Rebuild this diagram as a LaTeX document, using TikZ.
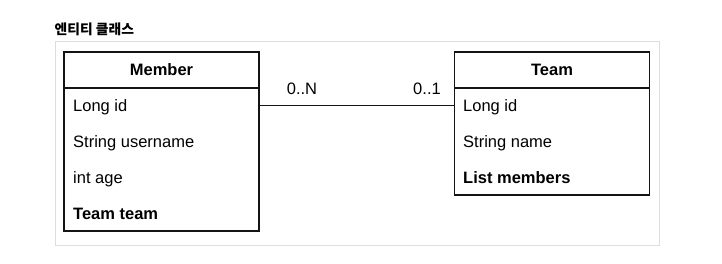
\documentclass[tikz,border=0pt]{standalone}
\usepackage{fontspec}
\setmainfont{Liberation Sans}
\newfontfamily\cjk{Noto Sans CJK KR}
\usetikzlibrary{positioning}
\definecolor{framegray}{RGB}{221,221,221}
\definecolor{inkdark}{RGB}{20,20,20}

\tikzset{
  classhead/.style={draw=inkdark, line width=1.1pt, minimum width=195pt, minimum height=36pt,
    inner sep=0pt, outer sep=0pt, font=\fontsize{16.5}{18}\selectfont\bfseries},
  classbody/.style={draw=inkdark, line width=1.1pt, minimum width=195pt, inner sep=0pt, outer sep=0pt},
  field/.style={anchor=base west, inner sep=0pt, font=\fontsize{16.5}{18}\selectfont},
  mult/.style={anchor=base, inner sep=0pt, font=\fontsize{16.5}{18}\selectfont},
}

\begin{document}
\begin{tikzpicture}[x=1pt, y=-1pt]
  \useasboundingbox (0,0) rectangle (722,264);
  % title and frame
  \node[anchor=west, inner sep=0pt, font=\cjk\bfseries\fontsize{13.8}{15}\selectfont] (title) at (54.5,29.5) {엔티티 클래스};
  \draw[framegray, line width=1pt] (55,42) rectangle (659,245);
  % Member
  \node[classhead] (memberhead) at (161.5,70) {Member};
  \node[classbody, minimum height=143pt, below=0pt of memberhead] (memberbody) {};
  \node[field] (mid) at (73,112) {Long id};
  \node[field] (mname) at (73,148) {String username};
  \node[field] (mage) at (73,184) {int age};
  \node[field, font=\fontsize{16.5}{18}\selectfont\bfseries] (mteam) at (73,220) {Team team};
  % Team
  \node[classhead] (teamhead) at (552,70) {Team};
  \node[classbody, minimum height=107pt, below=0pt of teamhead] (teambody) {};
  \node[field] (tid) at (463,112) {Long id};
  \node[field] (tname) at (463,148) {String name};
  \node[field, font=\fontsize{16.5}{18}\selectfont\bfseries] (tmembers) at (463,184) {List members};
  % association
  \draw[inkdark, line width=1pt] (memberbody.east |- 0,105.5) -- (teambody.west |- 0,105.5);
  \node[mult] (multn) at (302,95) {0..N};
  \node[mult] (mult1) at (427,95) {0..1};
\end{tikzpicture}
\end{document}
